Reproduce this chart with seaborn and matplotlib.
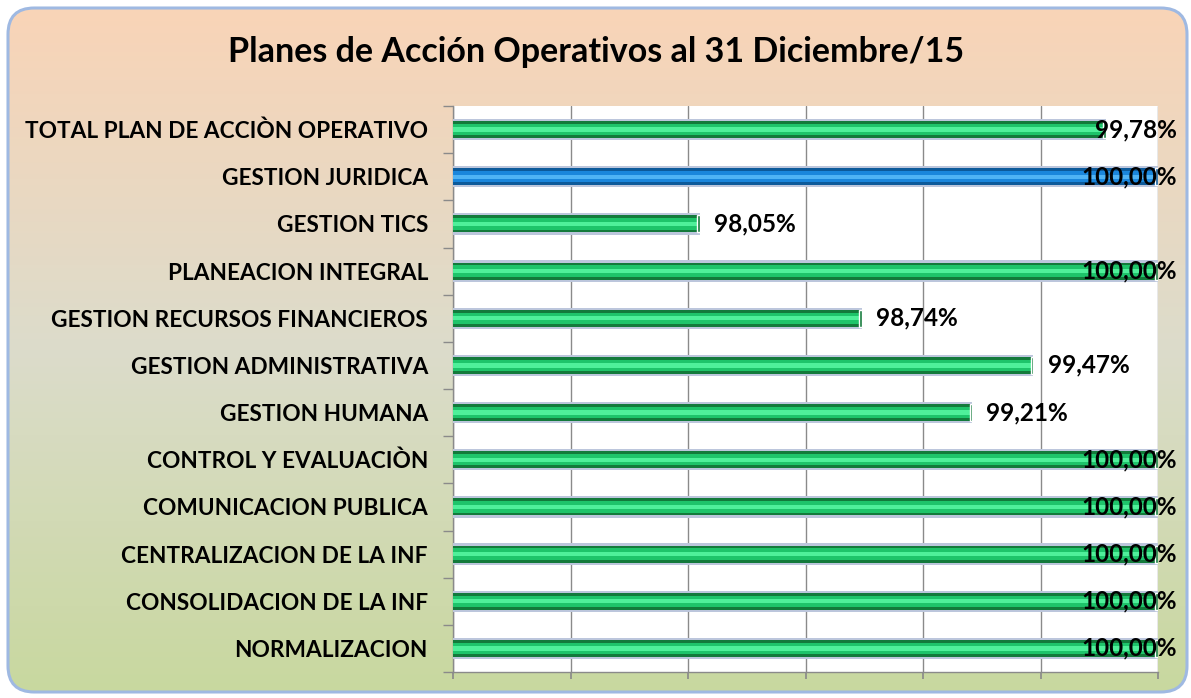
import numpy as np
import pandas as pd
import matplotlib
matplotlib.use('Agg')
import matplotlib.pyplot as plt
import seaborn as sns
from matplotlib.patches import FancyBboxPatch
from matplotlib.colors import LinearSegmentedColormap
from matplotlib.ticker import FixedLocator

# datos del grafico (de arriba hacia abajo)
categorias = ['TOTAL PLAN DE ACCIÒN OPERATIVO', 'GESTION JURIDICA', 'GESTION TICS',
              'PLANEACION INTEGRAL', 'GESTION RECURSOS FINANCIEROS', 'GESTION ADMINISTRATIVA',
              'GESTION HUMANA', 'CONTROL Y EVALUACIÒN', 'COMUNICACION PUBLICA',
              'CENTRALIZACION DE LA INF', 'CONSOLIDACION DE LA INF', 'NORMALIZACION']
valores = [99.78, 100.00, 98.05, 100.00, 98.74, 99.47, 99.21, 100.00, 100.00, 100.00, 100.00, 100.00]
destacado = 'GESTION JURIDICA'
titulo = 'Planes de Acción Operativos al 31 Diciembre/15'

df = pd.DataFrame({'categoria': categorias, 'valor': valores})

sns.set_theme(style='white')
plt.rcParams['font.family'] = ['Lato', 'DejaVu Sans']
plt.rcParams['font.weight'] = 'bold'

W, H = 1191, 698
fig = plt.figure(figsize=(W / 100, H / 100), dpi=100)
fig.patch.set_facecolor('white')

# fondo redondeado con degradado
bg = fig.add_axes([0, 0, 1, 1])
bg.set_xlim(0, 1)
bg.set_ylim(0, 1)
bg.axis('off')
x0, x1 = 8 / W, 1187 / W
y0, y1 = 1 - 692 / H, 1 - 8 / H
caja = FancyBboxPatch((x0, y0), x1 - x0, y1 - y0,
                      boxstyle='round,pad=0,rounding_size=0.022',
                      mutation_aspect=W / H, facecolor='none',
                      edgecolor='#9fb9e2', linewidth=2.2, transform=bg.transAxes, zorder=3)
bg.add_patch(caja)
cmap_bg = LinearSegmentedColormap.from_list('bg', ['#c8d89f', '#dcdccb', '#f9d4b7'])
grad = np.linspace(0, 1, 256).reshape(-1, 1)
img = bg.imshow(grad, cmap=cmap_bg, origin='lower', aspect='auto',
                extent=(x0, x1, y0, y1), transform=bg.transAxes, zorder=1)
img.set_clip_path(caja)

fig.text(596 / W, 1 - 52 / H, titulo, ha='center', va='center',
         fontsize=24.5, fontweight='bold', color='black')

# area de trazado
ax = fig.add_axes([453 / W, 1 - 672 / H, 705 / W, 566 / H])
ax.set_facecolor('white')

borde = ['#bcc6dc' for c in categorias]
oscuro = ['#0d5a9a' if c == destacado else '#137a3b' for c in categorias]
medio = ['#1a86dc' if c == destacado else '#1ec46a' for c in categorias]
claro = ['#4fb3f5' if c == destacado else '#4ff09a' for c in categorias]

# barras "cilindricas": capas superpuestas
capas = [(0.45, borde), (0.36, oscuro), (0.24, medio), (0.09, claro)]
for ancho, colores in capas:
    sns.barplot(data=df, x='valor', y='categoria', hue='categoria', palette=colores,
                width=ancho, orient='h', legend=False, saturation=1, ax=ax, zorder=3,
                edgecolor='none', linewidth=0)

# tapa oscura al final de cada barra
ax.barh(range(len(categorias)), 0.012, left=np.array(valores) - 0.012, height=0.36,
        color=oscuro, zorder=4)

ax.set_xlim(97, 100)
ax.set_ylim(len(categorias) - 0.5, -0.5)
ax.xaxis.set_major_locator(FixedLocator([97, 97.5, 98, 98.5, 99, 99.5, 100]))
ax.grid(axis='x', color='#8a8a8a', linewidth=1, zorder=0)
ax.set_axisbelow(True)
ax.set_xticklabels([])
ax.set_xlabel('')
ax.set_ylabel('')
ax.tick_params(axis='x', length=5, color='#8a8a8a', direction='out', bottom=True)
ax.set_yticks(range(len(categorias)))
ax.set_yticklabels(categorias, fontsize=16.3, fontweight='bold', color='black')
ax.tick_params(axis='y', length=0, pad=18)
ax.yaxis.set_minor_locator(FixedLocator(np.arange(-0.5, len(categorias), 1)))
ax.tick_params(axis='y', which='minor', length=7, color='#8a8a8a', left=True)
for s in ['top', 'right']:
    ax.spines[s].set_visible(False)
for s in ['left', 'bottom']:
    ax.spines[s].set_color('#8a8a8a')
    ax.spines[s].set_linewidth(1)

# etiquetas de valor
for i, v in enumerate(valores):
    txt = f'{v:.2f}%'.replace('.', ',')
    if v + 0.06 + 0.345 > 100.08:
        ax.text(100.08, i, txt, ha='right', va='center', fontsize=17.5,
                fontweight='bold', color='black', clip_on=False, zorder=5)
    else:
        ax.text(v + 0.06, i, txt, ha='left', va='center', fontsize=17.5,
                fontweight='bold', color='black', clip_on=False, zorder=5)

fig.savefig('out.png', dpi=100)
